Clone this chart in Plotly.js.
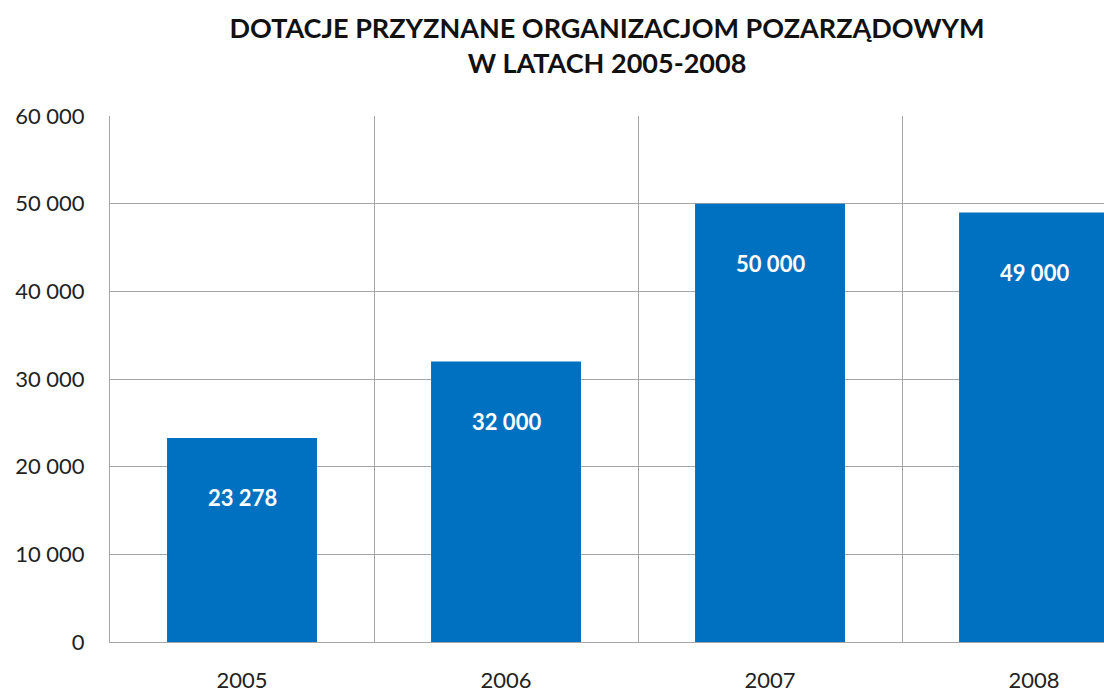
<!DOCTYPE html>
<html><head><meta charset="utf-8">
<script src="https://cdn.plot.ly/plotly-3.0.1.min.js"></script>
<style>html,body{margin:0;padding:0;background:#fff}#c{width:1104px;height:697px}</style>
</head><body><div id="c"></div>
<script>
const years = ['2005', '2006', '2007', '2008'];
const values = [23278, 32000, 50000, 49000];
const yTicks = [0, 10000, 20000, 30000, 40000, 50000, 60000];

function fmt(v){ return String(v).replace(/\B(?=(\d{3})+(?!\d))/g, ' '); }
const FONT = 'Lato, "Open Sans", sans-serif';

const trace = {
  type: 'bar', x: years, y: values,
  marker: {color: '#0070C0'},
  hoverinfo: 'none'
};
const annotations = years.map((yr, i) => ({
  x: i, y: values[i], xref: 'x', yref: 'y',
  text: '<b>' + fmt(values[i]) + '</b>', showarrow: false,
  xanchor: 'center', yanchor: 'middle', yshift: -60,
  font: {family: FONT, size: 22, color: '#ffffff'}
}));
const layout = {
  width: 1104, height: 697,
  margin: {l: 110, r: 0, t: 116, b: 55},
  paper_bgcolor: '#ffffff', plot_bgcolor: '#ffffff',
  separators: '. ',
  bargap: 0.432,
  showlegend: false,
  title: {
    text: '<b>DOTACJE PRZYZNANE ORGANIZACJOM POZARZĄDOWYM<br>W LATACH 2005-2008</b>',
    x: 0.5, xref: 'paper', yref: 'container', y: 0.946, yanchor: 'middle',
    font: {family: FONT, size: 27, color: '#111111'}
  },
  xaxis: {
    type: 'category', range: [-0.5, 3.265],
    tickson: 'boundaries', showgrid: true, gridcolor: '#a6a6a6', gridwidth: 1,
    showline: true, linecolor: '#a6a6a6', linewidth: 1,
    ticks: '', ticklabelstandoff: 19,
    tickfont: {family: FONT, size: 22, color: '#222222'}
  },
  yaxis: {
    range: [0, 60000], tickvals: yTicks, ticktext: yTicks.map(fmt),
    showgrid: true, gridcolor: '#a6a6a6', gridwidth: 1,
    showline: true, linecolor: '#a6a6a6', linewidth: 1, zeroline: false,
    ticks: '', ticklabelstandoff: 20,
    tickfont: {family: FONT, size: 22, color: '#222222'}
  },
  annotations: annotations
};
Plotly.newPlot('c', [trace], layout, {displayModeBar: false, staticPlot: true});
</script></body></html>
